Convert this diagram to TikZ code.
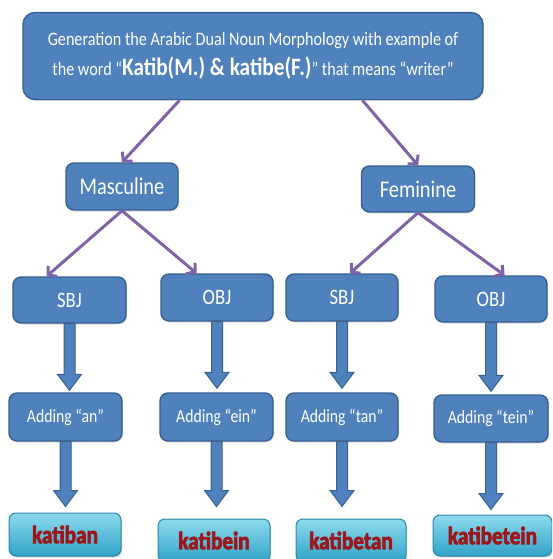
\documentclass[tikz,border=0pt]{standalone}
\usepackage{fontspec}
\setmainfont{Carlito}[FakeStretch=0.85]
\usetikzlibrary{calc,arrows.meta,shadows,backgrounds}
\definecolor{boxblue}{HTML}{4F81BD}
\definecolor{boxedge}{HTML}{35608F}
\definecolor{arrpurple}{HTML}{8062A8}
\definecolor{restop}{HTML}{8EDAEE}
\definecolor{resbot}{HTML}{2FA3C6}
\definecolor{resedge}{HTML}{2A88A8}
\definecolor{resred}{HTML}{9C171C}
\newcommand{\heavy}[1]{\special{pdf:literal direct 2 Tr 0.7 w 0.612 0.090 0.110 RG}#1\special{pdf:literal direct 0 Tr}}
\tikzset{
  bluebox/.style={draw=boxedge, line width=1.4pt, fill=boxblue, rounded corners=8pt,
    text=white, inner sep=0pt, font=\fontsize{18.5}{22}\selectfont,
    drop shadow={opacity=0.25, shadow xshift=1pt, shadow yshift=-1.5pt}},
  rolebox/.style={bluebox, font=\fontsize{22}{24}\selectfont},
  genderbox/.style={bluebox, font=\fontsize{24}{28}\selectfont},
  resbox/.style={draw=resedge, line width=1pt, top color=restop, bottom color=resbot,
    rounded corners=7pt, text=resred, inner sep=0pt,
    font=\bfseries\fontsize{25}{28}\selectfont,
    drop shadow={opacity=0.3, shadow xshift=1pt, shadow yshift=-1.5pt}},
  purplearrow/.style={draw=arrpurple, line width=3pt,
    -{Straight Barb[length=6pt,width=14pt]}},
  blockarr/.style={fill=boxblue, draw=boxedge, line width=1pt}
}
\newcommand{\blockarrow}[3]{%
  \path[blockarr] let \p1=(#1.south), \p2=(#2.north) in
    (\x1-5.5pt,\y1) -- (\x1-5.5pt,\y2+#3+16pt) -- (\x1-12pt,\y2+#3+16pt)
    -- (\x1,\y2+#3) -- (\x1+12pt,\y2+#3+16pt) -- (\x1+5.5pt,\y2+#3+16pt)
    -- (\x1+5.5pt,\y1) -- cycle;}
\begin{document}
\begin{tikzpicture}[x=1pt,y=-1pt]
\useasboundingbox (0,0) rectangle (552,559);
\clip (0,0) rectangle (552,559);
% top box
\node[bluebox, rounded corners=12pt, minimum width=460pt, minimum height=87pt, align=center,
  font=\fontsize{19}{30}\selectfont] (top) at (253,56)
  {Generation the Arabic Dual Noun Morphology with example of\\
   the word “{\bfseries\fontsize{25}{30}\selectfont Katib(M.) \& katibe(F.)}” that means “writer”};
% gender
\node[genderbox, minimum width=112pt, minimum height=47pt] (masc) at (122,186.5) {Masculine};
\node[genderbox, minimum width=113pt, minimum height=46pt] (fem) at (418,189) {Feminine};
% roles
\node[rolebox, minimum width=113pt, minimum height=46pt] (sbj1) at (69.5,300) {SBJ};
\node[rolebox, minimum width=112pt, minimum height=47pt] (obj1) at (217,297.5) {OBJ};
\node[rolebox, minimum width=112pt, minimum height=47pt] (sbj2) at (342,297.5) {SBJ};
\node[rolebox, minimum width=112pt, minimum height=46pt] (obj2) at (491,299) {OBJ};
% adding
\node[bluebox, minimum width=113pt, minimum height=48pt] (add1) at (65.5,417) {Adding “an”};
\node[bluebox, minimum width=113pt, minimum height=48pt] (add2) at (216.5,417) {Adding “ein”};
\node[bluebox, minimum width=112pt, minimum height=48pt] (add3) at (342,417) {Adding “tan”};
\node[bluebox, minimum width=114pt, minimum height=47pt] (add4) at (491,418.5) {Adding “tein”};
% results
\node[resbox, minimum width=112pt, minimum height=43pt] (res1) at (65,534.5) {\heavy{katiban}};
\node[resbox, minimum width=112pt, minimum height=43pt] (res2) at (214,540.5) {\heavy{katibein}};
\node[resbox, minimum width=110pt, minimum height=43pt] (res3) at (351,540.5) {\heavy{katibetan}};
\node[resbox, minimum width=119pt, minimum height=41pt] (res4) at (492.5,535.5) {\heavy{katibetein}};
% purple arrows
\draw[purplearrow] ($(top.south west)!0.341!(top.south east)$) -- (masc.north);
\draw[purplearrow] ($(top.south west)!0.737!(top.south east)$) -- (fem.north);
\draw[purplearrow] (masc.south) -- ($(sbj1.north west)!0.30!(sbj1.north east)$);
\draw[purplearrow] (masc.south) -- ($(obj1.north west)!0.32!(obj1.north east)$);
\draw[purplearrow] (fem.south) -- ($(sbj2.north west)!0.57!(sbj2.north east)$);
\draw[purplearrow] (fem.south) -- ($(obj2.north west)!0.62!(obj2.north east)$);
% block arrows
\begin{scope}[on background layer]
\blockarrow{sbj1}{add1}{2pt}
\blockarrow{obj1}{add2}{4pt}
\blockarrow{sbj2}{add3}{4pt}
\blockarrow{obj2}{add4}{3pt}
\blockarrow{add1}{res1}{6pt}
\blockarrow{add2}{res2}{12pt}
\blockarrow{add3}{res3}{12pt}
\blockarrow{add4}{res4}{5pt}
\end{scope}
\end{tikzpicture}
\end{document}
